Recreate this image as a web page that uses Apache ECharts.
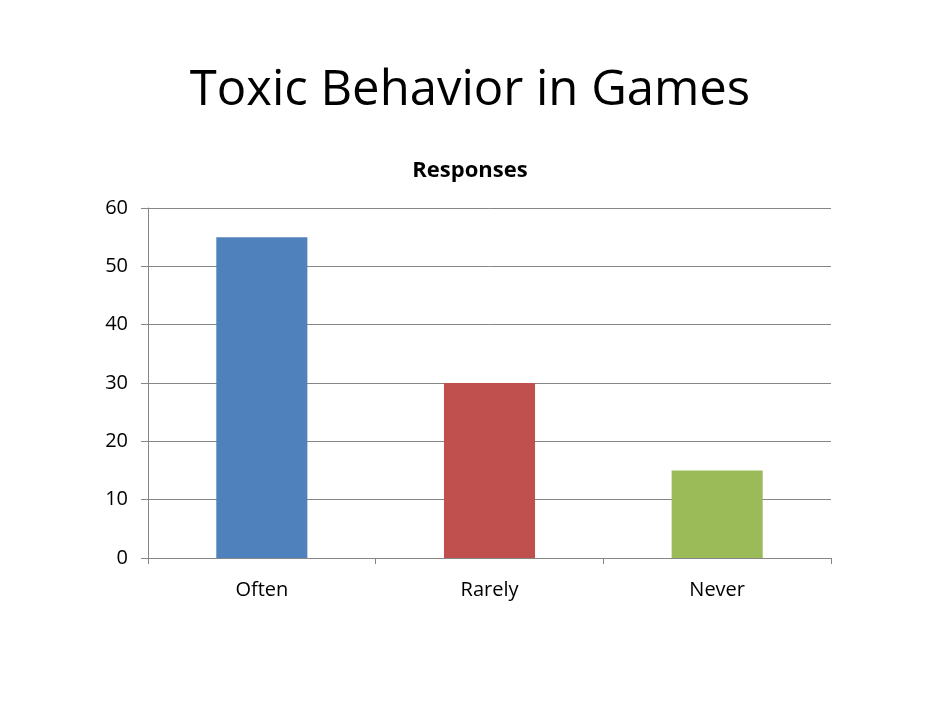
<!DOCTYPE html>
<html>
<head>
<meta charset="utf-8">
<script src="https://cdn.jsdelivr.net/npm/echarts@6/dist/echarts.min.js"></script>
<style>
  html, body { margin: 0; padding: 0; background: #fff; }
  #chart { width: 940px; height: 705px; }
</style>
</head>
<body>
<div id="chart"></div>
<script>
const categories = ['Often', 'Rarely', 'Never'];
const responses = [55, 30, 15];
const barColors = ['#4F81BD', '#C0504D', '#9BBB59'];

const chart = echarts.init(document.getElementById('chart'));

const font = '"Open Sans", sans-serif';

chart.setOption({
  animation: false,
  backgroundColor: '#fff',
  title: [
    {
      text: 'Toxic Behavior in Games',
      left: 'center',
      top: 62,
      textStyle: { fontFamily: font, fontSize: 49, fontWeight: 'normal', color: '#000' }
    },
    {
      text: 'Responses',
      left: 'center',
      top: 155,
      textStyle: { fontFamily: font, fontSize: 22, fontWeight: 'bold', color: '#000' }
    }
  ],
  grid: { left: 148, right: 109, top: 208, bottom: 147 },
  xAxis: {
    type: 'category',
    data: categories,
    axisLine: { lineStyle: { color: '#868686', width: 1 } },
    axisTick: { show: true, length: 6, lineStyle: { color: '#868686' } },
    axisLabel: { fontFamily: font, fontSize: 20, color: '#000', margin: 22 }
  },
  yAxis: {
    type: 'value',
    min: 0,
    max: 60,
    interval: 10,
    axisLine: { show: true, lineStyle: { color: '#868686', width: 1 } },
    axisTick: { show: true, length: 7, lineStyle: { color: '#868686' } },
    splitLine: { lineStyle: { color: '#868686', width: 1 } },
    axisLabel: { fontFamily: font, fontSize: 20, color: '#000', margin: 20 }
  },
  series: [{
    type: 'bar',
    barWidth: '40%',
    data: responses.map((v, i) => ({ value: v, itemStyle: { color: barColors[i] } }))
  }]
});
</script>
</body>
</html>
